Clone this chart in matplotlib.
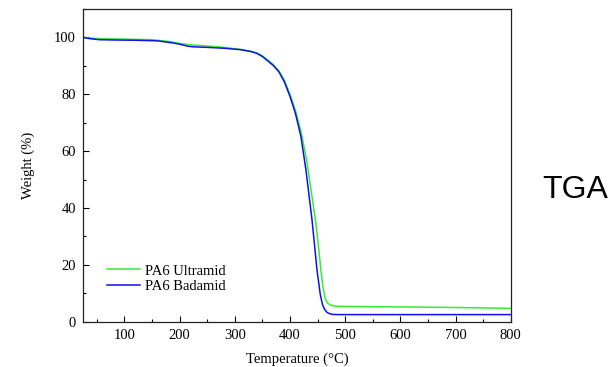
import matplotlib
matplotlib.use("Agg")
import matplotlib.pyplot as plt
from matplotlib.ticker import MultipleLocator

# Data
temp_ultramid = [25, 50, 100, 150, 180, 200, 220, 250, 280, 310, 330, 340, 350, 360, 370, 380, 390,
                 400, 410, 420, 430, 440, 447, 452, 456, 460, 464, 468, 473, 480, 490, 550, 600, 700, 800]
weight_ultramid = [100, 99.6, 99.4, 99.2, 98.6, 97.9, 97.4, 97.0, 96.5, 95.8, 95.1, 94.5, 93.5, 92.0, 90.4, 88.2, 84.9,
                   80.0, 74.3, 67.0, 57.0, 44.0, 34.5, 26.0, 18.2, 12.0, 8.0, 6.6, 5.9, 5.5, 5.4, 5.3, 5.2, 5.0, 4.7]

temp_badamid = [25, 40, 55, 80, 120, 160, 190, 205, 215, 225, 250, 280, 310, 330, 340, 350, 360, 370, 380,
                390, 400, 410, 420, 429, 440, 449, 455, 459, 463, 467, 472, 478, 490, 600, 700, 800]
weight_badamid = [100, 99.5, 99.2, 99.1, 99.0, 98.8, 98.0, 97.4, 96.9, 96.7, 96.5, 96.2, 95.7, 95.0, 94.4, 93.3, 91.7, 90.1, 87.9,
                  84.3, 79.3, 73.2, 65.0, 53.3, 35.8, 18.2, 9.5, 6.0, 4.3, 3.3, 2.8, 2.55, 2.5, 2.5, 2.5, 2.5]

series_labels = ["PA6 Ultramid", "PA6 Badamid"]
x_label = "Temperature (\u00b0C)"
y_label = "Weight (%)"
side_text = "TGA"

plt.rcParams['font.family'] = ['Liberation Serif', 'DejaVu Serif']

fig = plt.figure(figsize=(6.09, 3.67), dpi=100)
ax = fig.add_axes([0.1363, 0.1234, 0.7023, 0.8521])

ax.plot(temp_ultramid, weight_ultramid, color='#33ee33', lw=1.1, label=series_labels[0])
ax.plot(temp_badamid, weight_badamid, color='#1010ee', lw=1.1, label=series_labels[1])

ax.set_xlim(25, 800)
ax.set_ylim(0, 110)
ax.xaxis.set_major_locator(MultipleLocator(100))
ax.xaxis.set_minor_locator(MultipleLocator(50))
ax.yaxis.set_major_locator(MultipleLocator(20))
ax.yaxis.set_minor_locator(MultipleLocator(10))
ax.tick_params(which='both', direction='in', top=False, right=False, labelsize=10.5, pad=5)
ax.tick_params(which='major', length=4, width=0.8)
ax.tick_params(which='minor', length=2.4, width=0.8)
for s in ax.spines.values():
    s.set_linewidth(0.9)
    s.set_color('#222222')

ax.set_xlabel(x_label, fontsize=10.5, labelpad=8)
ax.set_ylabel(y_label, fontsize=10.5, labelpad=14)

leg = ax.legend(loc='lower left', bbox_to_anchor=(0.056, 0.092), frameon=False,
                fontsize=10.5, handlelength=2.3, handletextpad=0.3, borderpad=0,
                borderaxespad=0, labelspacing=0.15)

fig.text(0.891, 0.482, side_text, family='Liberation Sans', fontsize=23, va='center', ha='left')

fig.savefig('out.png', dpi=100)
